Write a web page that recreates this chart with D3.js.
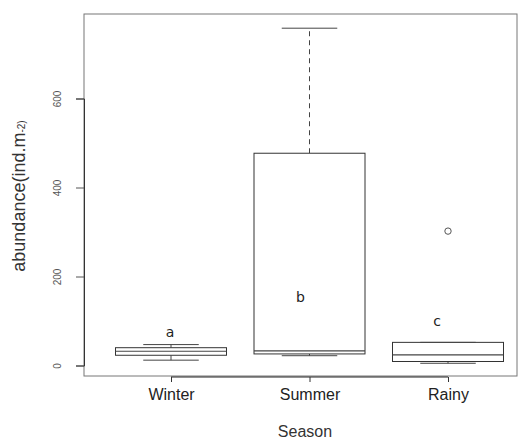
<!DOCTYPE html>
<html><head><meta charset="utf-8">
<script src="https://cdn.jsdelivr.net/npm/d3@7"></script>
<style>body{margin:0;background:#fff}</style>
</head><body>
<svg id="chart" width="526" height="441"></svg>
<script>
const categories = ["Winter", "Summer", "Rainy"];
const whiskerLow = [12, 22, 5];
const q1 = [23, 26, 9];
const medians = [32, 33, 24];
const q3 = [40, 477, 52];
const whiskerHigh = [47, 758, 52];
const outliers = [[], [], [302]];
const groupLabels = ["a", "b", "c"];
const groupLabelY = [65, 143, 89];
const yTicks = [0, 200, 400, 600];

(function () {
const svg = d3.select("#chart");
const pLeft = 84, pRight = 517, pTop = 14, pBottom = 376;
const y = d3.scaleLinear().domain([0, 600]).range([365.5, 98.5]);
const x = d3.scalePoint().domain(categories).range([171, 448]);
const bw = 111;
const font = "Liberation Sans, Arial, sans-serif";

svg.append("rect").attr("x", pLeft).attr("y", pTop).attr("width", pRight - pLeft).attr("height", pBottom - pTop)
  .attr("fill", "none").attr("stroke", "#777").attr("stroke-width", 1);

const yAxis = svg.append("g").attr("transform", `translate(${pLeft},0)`)
  .call(d3.axisLeft(y).tickValues(yTicks).tickSize(8).tickFormat(d3.format("d")));
yAxis.select(".domain").attr("stroke", "#333");
yAxis.selectAll(".tick line").attr("stroke", "#555");
yAxis.selectAll(".tick text").attr("font-family", font).attr("font-size", 10).attr("fill", "#555")
  .attr("x", null).attr("transform", "translate(-27,0) rotate(-90)").attr("text-anchor", "middle").attr("dy", "0.35em");

const xAxis = svg.append("g").attr("transform", `translate(0,${pBottom + 1})`)
  .call(d3.axisBottom(x).tickSize(5).tickPadding(7));
xAxis.select(".domain").attr("stroke", "#222").attr("d", `M${x(categories[0])},0H${x(categories[2])}`);
xAxis.selectAll(".tick line").attr("stroke", "#333");
xAxis.selectAll(".tick text").attr("font-family", font).attr("font-size", 16).attr("fill", "#222");

categories.forEach((c, i) => {
  const cx = x(c);
  const g = svg.append("g");
  g.append("line").attr("x1", cx).attr("x2", cx).attr("y1", y(q3[i])).attr("y2", y(whiskerHigh[i]))
    .attr("stroke", "#444").attr("stroke-dasharray", "5,4");
  g.append("line").attr("x1", cx).attr("x2", cx).attr("y1", y(q1[i])).attr("y2", y(whiskerLow[i]))
    .attr("stroke", "#444").attr("stroke-dasharray", "5,4");
  [whiskerHigh[i], whiskerLow[i]].forEach(v => {
    g.append("line").attr("x1", cx - bw / 4).attr("x2", cx + bw / 4).attr("y1", y(v)).attr("y2", y(v))
      .attr("stroke", "#444");
  });
  g.append("rect").attr("x", cx - bw / 2).attr("width", bw).attr("y", y(q3[i]))
    .attr("height", y(q1[i]) - y(q3[i])).attr("fill", "#fff").attr("stroke", "#333");
  g.append("line").attr("x1", cx - bw / 2).attr("x2", cx + bw / 2).attr("y1", y(medians[i])).attr("y2", y(medians[i]))
    .attr("stroke", "#444").attr("stroke-width", 1.2);
  outliers[i].forEach(v => {
    g.append("circle").attr("cx", cx).attr("cy", y(v)).attr("r", 3.2).attr("fill", "none").attr("stroke", "#555");
  });
  svg.append("text").attr("x", cx - [1, 9, 11][i]).attr("y", y(groupLabelY[i])).attr("text-anchor", "middle")
    .attr("font-family", "DejaVu Sans, sans-serif").attr("font-size", 14).attr("fill", "#222").text(groupLabels[i]);
});

svg.append("text").attr("x", 305).attr("y", 437).attr("text-anchor", "middle")
  .attr("font-family", font).attr("font-size", 16).attr("fill", "#333").text("Season");
const yt = svg.append("text").attr("transform", "translate(24.5,196) rotate(-90)").attr("text-anchor", "middle")
  .attr("font-family", font).attr("font-size", 18).attr("fill", "#333");
yt.append("tspan").text("abundance(ind.m");
yt.append("tspan").attr("font-size", 10).text("-2)");
})();
</script>
</body></html>
